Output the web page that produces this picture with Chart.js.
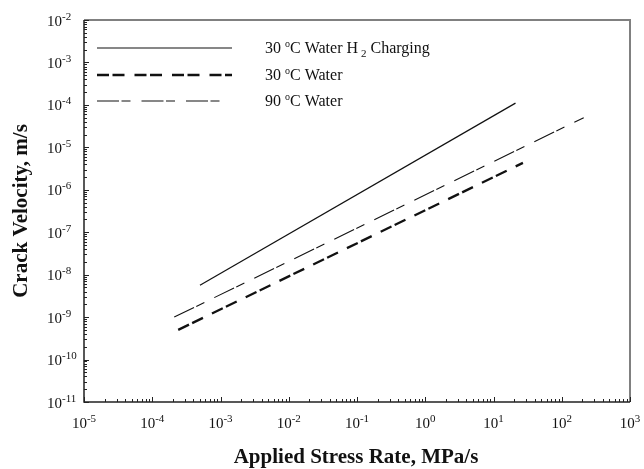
<!DOCTYPE html>
<html>
<head>
<meta charset="utf-8">
<script src="https://cdn.jsdelivr.net/npm/chart.js@4"></script>
<style>
  html, body { margin: 0; padding: 0; background: #fff; }
  #wrap { width: 644px; height: 469px; }
</style>
</head>
<body>
<div id="wrap"><canvas id="crackChart" width="644" height="469"></canvas></div>
<script>
// series (applied stress rate MPa/s -> crack velocity m/s)
const h2X = [5e-4, 21];
const h2Y = [5.6e-9, 1.1e-4];
const w30X = [2.4e-4, 27];
const w30Y = [5e-10, 4.3e-6];
const w90X = [2.1e-4, 210];
const w90Y = [1e-9, 5e-5];

// decade exponents for tick labels
const xExps = [-5, -4, -3, -2, -1, 0, 1, 2, 3];
const yExps = [-11, -10, -9, -8, -7, -6, -5, -4, -3, -2];

const xTitle = 'Applied Stress Rate, MPa/s';
const yTitle = 'Crack Velocity, m/s';

const serif = '"Liberation Serif", "Times New Roman", serif';

const pts = (xs, ys) => xs.map((x, i) => ({ x, y: ys[i] }));

// legend rows: [before sup, sup, middle, sub, after]
const legendRows = [
  ['30 ', 'o', 'C Water H', '2', ' Charging'],
  ['30 ', 'o', 'C Water', '', ''],
  ['90 ', 'o', 'C Water', '', '']
];

// "10" with a raised exponent; align: 'center' or 'left', y is the baseline
function drawTen(ctx, exp, x, y, align) {
  ctx.font = '15px ' + serif;
  const bw = ctx.measureText('10').width;
  ctx.font = '11px ' + serif;
  const es = String(exp);
  const ew = ctx.measureText(es).width;
  const left = align === 'center' ? x - (bw + ew) / 2 : x;
  ctx.textBaseline = 'alphabetic';
  ctx.textAlign = 'left';
  ctx.font = '15px ' + serif;
  ctx.fillText('10', left, y);
  ctx.font = '11px ' + serif;
  ctx.fillText(es, left + bw, y - 6);
}

const axesPlugin = {
  id: 'axesPlugin',
  afterDraw(chart) {
    const { ctx, chartArea: a, scales } = chart;
    const xs = scales.x, ys = scales.y;
    ctx.save();

    // frame
    ctx.lineWidth = 2;
    ctx.strokeStyle = '#808080';
    ctx.beginPath();
    ctx.moveTo(a.left, a.top);
    ctx.lineTo(a.right, a.top);
    ctx.lineTo(a.right, a.bottom);
    ctx.stroke();
    ctx.strokeStyle = '#222';
    ctx.lineWidth = 1.5;
    ctx.beginPath();
    ctx.moveTo(a.left, a.top);
    ctx.lineTo(a.left, a.bottom);
    ctx.lineTo(a.right, a.bottom);
    ctx.stroke();

    // ticks, inward
    ctx.lineWidth = 1;
    ctx.beginPath();
    xExps.forEach((e, i) => {
      for (let m = 1; m <= 9; m++) {
        if (i === xExps.length - 1 && m > 1) break;
        const px = Math.round(xs.getPixelForValue(m * Math.pow(10, e))) + 0.5;
        const len = m === 1 ? 5 : 3;
        ctx.moveTo(px, a.bottom);
        ctx.lineTo(px, a.bottom - len);
      }
    });
    yExps.forEach((e, i) => {
      for (let m = 1; m <= 9; m++) {
        if (i === yExps.length - 1 && m > 1) break;
        const py = Math.round(ys.getPixelForValue(m * Math.pow(10, e))) + 0.5;
        const len = m === 1 ? 5 : 3;
        ctx.moveTo(a.left, py);
        ctx.lineTo(a.left + len, py);
      }
    });
    ctx.stroke();

    // tick labels
    ctx.fillStyle = '#111';
    xExps.forEach(e => drawTen(ctx, e, xs.getPixelForValue(Math.pow(10, e)), a.bottom + 26, 'center'));
    yExps.forEach(e => drawTen(ctx, e, 47, ys.getPixelForValue(Math.pow(10, e)) + 5.5, 'left'));

    // axis titles
    ctx.font = 'bold 21px ' + serif;
    ctx.textAlign = 'center';
    ctx.textBaseline = 'middle';
    ctx.fillText(xTitle, 356, 458);
    ctx.save();
    ctx.translate(22, 211);
    ctx.rotate(-Math.PI / 2);
    ctx.fillText(yTitle, 0, 0);
    ctx.restore();

    // legend
    const rowY = [48, 75, 101];
    chart.data.datasets.forEach((ds, i) => {
      const y = rowY[i];
      ctx.save();
      ctx.strokeStyle = ds.borderColor;
      ctx.lineWidth = ds.borderWidth;
      ctx.setLineDash(ds.borderDash || []);
      ctx.beginPath();
      ctx.moveTo(97, y);
      ctx.lineTo(i === 2 ? 222 : 232, y);
      ctx.stroke();
      ctx.restore();

      const r = legendRows[i];
      let x = 265;
      const base = y + 5;
      ctx.textAlign = 'left';
      ctx.textBaseline = 'alphabetic';
      ctx.font = '16px ' + serif;
      ctx.fillText(r[0], x, base); x += ctx.measureText(r[0]).width;
      ctx.font = '10px ' + serif;
      ctx.fillText(r[1], x, base - 6); x += ctx.measureText(r[1]).width;
      ctx.font = '16px ' + serif;
      ctx.fillText(r[2], x, base); x += ctx.measureText(r[2]).width;
      if (r[3]) {
        x += 3;
        ctx.font = '11px ' + serif;
        ctx.fillText(r[3], x, base + 4); x += ctx.measureText(r[3]).width;
        ctx.font = '16px ' + serif;
        ctx.fillText(r[4], x, base);
      }
    });
    ctx.restore();
  }
};

new Chart(document.getElementById('crackChart'), {
  type: 'scatter',
  data: {
    datasets: [
      {
        label: '30 °C Water H2 Charging',
        data: pts(h2X, h2Y),
        showLine: true,
        borderColor: '#111',
        borderWidth: 1.2,
        pointRadius: 0
      },
      {
        label: '30 °C Water',
        data: pts(w30X, w30Y),
        showLine: true,
        borderColor: '#111',
        borderWidth: 2.3,
        borderDash: [12, 3.5, 12, 10],
        pointRadius: 0
      },
      {
        label: '90 °C Water',
        data: pts(w90X, w90Y),
        showLine: true,
        borderColor: '#111',
        borderWidth: 1.1,
        borderDash: [22, 2.5, 9, 11],
        pointRadius: 0
      }
    ]
  },
  options: {
    responsive: false,
    animation: false,
    layout: { padding: { left: 84, top: 20, right: 14, bottom: 67 } },
    plugins: { legend: { display: false }, tooltip: { enabled: false } },
    scales: {
      x: { type: 'logarithmic', min: 1e-5, max: 1e3, display: false },
      y: { type: 'logarithmic', min: 1e-11, max: 1e-2, display: false }
    }
  },
  plugins: [axesPlugin]
});
</script>
</body>
</html>
